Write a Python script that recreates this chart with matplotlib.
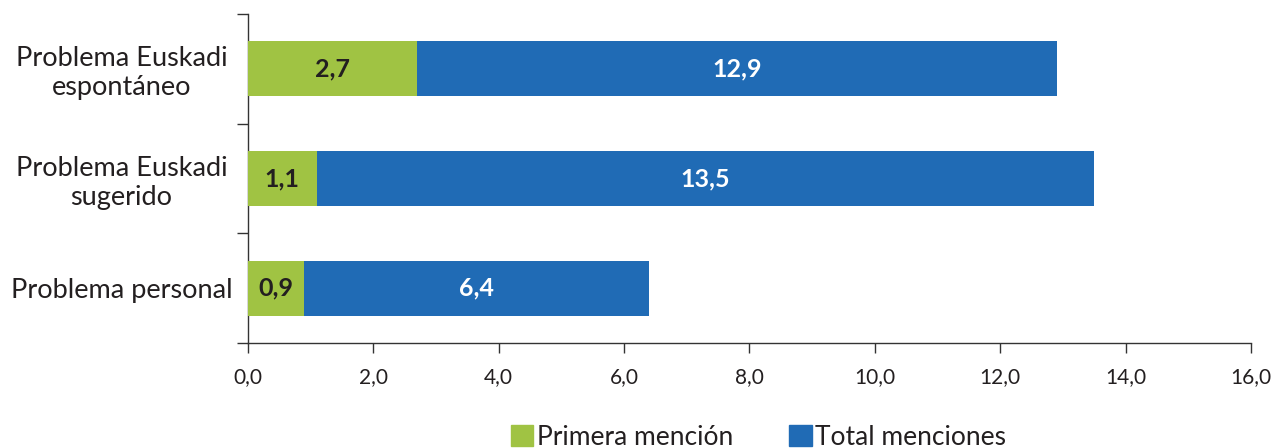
import matplotlib.pyplot as plt
from matplotlib.ticker import FixedLocator, FuncFormatter
from matplotlib.patches import Patch

categories = ['Problema Euskadi\nespontáneo', 'Problema Euskadi\nsugerido', 'Problema personal']
primera = [2.7, 1.1, 0.9]
total = [12.9, 13.5, 6.4]
xticks = [0, 2, 4, 6, 8, 10, 12, 14, 16]

green = '#a0c343'
blue = '#206bb5'
txt = '#231f20'

plt.rcParams['font.family'] = ['Lato', 'DejaVu Sans']

fig = plt.figure(figsize=(12.86, 4.48), dpi=100)
ax = fig.add_axes([0.1928, 0.2344, 0.78, 0.7346])

ypos = [2, 1, 0]
ax.barh(ypos, total, height=0.5, color=blue, zorder=2)
ax.barh(ypos, primera, height=0.5, color=green, zorder=3)

for y, p, t in zip(ypos, primera, total):
    ax.text(p / 2, y, f'{p:.1f}'.replace('.', ','), ha='center', va='center',
            fontsize=18, fontweight='bold', color=txt, zorder=4)
    ax.text((p + t) / 2, y, f'{t:.1f}'.replace('.', ','), ha='center', va='center',
            fontsize=18, fontweight='bold', color='white', zorder=4)

ax.set_xlim(0, 16)
ax.set_ylim(-0.5, 2.5)
ax.set_xticks(xticks)
ax.xaxis.set_major_formatter(FuncFormatter(lambda v, pos: f'{v:.1f}'.replace('.', ',')))
ax.set_yticks(ypos)
ax.set_yticklabels(categories, fontsize=19.5, color=txt, ha='center')
ax.yaxis.set_minor_locator(FixedLocator([-0.5, 0.5, 1.5, 2.5]))
ax.tick_params(axis='y', which='major', length=0, pad=91)
ax.tick_params(axis='y', which='minor', length=8, width=1, color='#333333')
ax.tick_params(axis='x', length=7, width=1, color='#333333', labelsize=15,
               labelcolor=txt, pad=10)

for s in ['top', 'right']:
    ax.spines[s].set_visible(False)
for s in ['left', 'bottom']:
    ax.spines[s].set_color('#333333')
    ax.spines[s].set_linewidth(1)

handles = [Patch(color=green, label='Primera mención'),
           Patch(color=blue, label='Total menciones')]
fig.legend(handles=handles, loc='center', bbox_to_anchor=(0.59, 1 - 437 / 448),
           ncol=2, frameon=False, fontsize=19, handlelength=0.85, handleheight=0.85,
           handletextpad=0.15, columnspacing=2.1, labelcolor=txt)

fig.savefig('out.png', dpi=100)
